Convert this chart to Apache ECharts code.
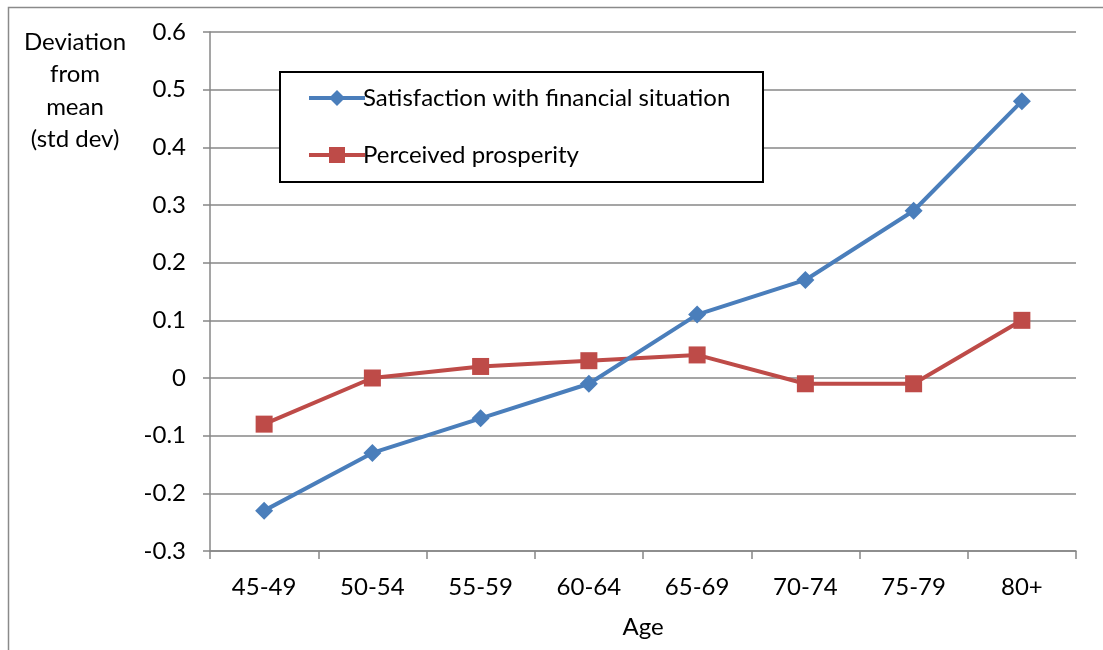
<!DOCTYPE html>
<html>
<head>
<meta charset="utf-8">
<script src="https://cdn.jsdelivr.net/npm/echarts@6/dist/echarts.min.js"></script>
<style>
  html, body { margin: 0; padding: 0; background: #fff; }
  #chart { width: 1103px; height: 650px; }
</style>
</head>
<body>
<div id="chart"></div>
<script>
// Age groups on the category axis
const ageGroups = ['45-49', '50-54', '55-59', '60-64', '65-69', '70-74', '75-79', '80+'];

// Deviation from mean, in standard deviations
const satisfactionFinancial = [-0.23, -0.13, -0.07, -0.01, 0.11, 0.17, 0.29, 0.48];
const perceivedProsperity = [-0.08, 0.00, 0.02, 0.03, 0.04, -0.01, -0.01, 0.10];

const seriesNames = ['Satisfaction with financial situation', 'Perceived prosperity'];
const yAxisTitle = ['Deviation', 'from', 'mean', '(std dev)'];
const xAxisTitle = 'Age';

const FONT = 'Lato';
const FS = 24;
const AXIS_GREY = '#878787';
const BLUE = '#4A7EBB';
const RED = '#BE4B48';

const chart = echarts.init(document.getElementById('chart'), null, { renderer: 'canvas' });

chart.setOption({
  animation: false,
  backgroundColor: '#ffffff',
  textStyle: { fontFamily: FONT },
  grid: { left: 210, right: 27, top: 32, bottom: 99, containLabel: false },
  xAxis: {
    type: 'category',
    data: ageGroups,
    boundaryGap: true,
    axisLine: { onZero: false, lineStyle: { color: AXIS_GREY, width: 1.5 } },
    axisTick: { show: true, alignWithLabel: false, length: 8, lineStyle: { color: AXIS_GREY, width: 1.5 } },
    axisLabel: { color: '#000', fontSize: FS, fontFamily: FONT, margin: 24 },
    splitLine: { show: false }
  },
  yAxis: {
    type: 'value',
    min: -0.3,
    max: 0.6,
    interval: 0.1,
    axisLine: { show: true, lineStyle: { color: AXIS_GREY, width: 1.5 } },
    axisTick: { show: true, length: 7, lineStyle: { color: AXIS_GREY, width: 1.5 } },
    axisLabel: {
      color: '#000', fontSize: FS, fontFamily: FONT, margin: 24,
      formatter: v => (Math.abs(v) < 1e-9 ? '0' : v.toFixed(1))
    },
    splitLine: { show: true, lineStyle: { color: AXIS_GREY, width: 1.5 } }
  },
  legend: {
    orient: 'vertical',
    left: 302,
    top: 81,
    z: 100,
    itemWidth: 56,
    itemHeight: 20,
    itemGap: 33,
    lineStyle: { width: 4 },
    textStyle: { color: '#000', fontSize: FS, fontFamily: FONT, padding: [0, 0, 0, -7] },
    data: seriesNames
  },
  graphic: [
    {
      type: 'rect',
      shape: { x: 8.5, y: 7.5, width: 1200, height: 700 },
      style: { fill: 'none', stroke: '#8a8a8a', lineWidth: 1.5 },
      silent: true, z: -10
    },
    {
      type: 'rect',
      shape: { x: 280, y: 72, width: 483, height: 110 },
      style: { fill: '#ffffff', stroke: '#000000', lineWidth: 2 },
      silent: true, z: 5
    },
    {
      type: 'text',
      x: 75, y: 26,
      style: {
        text: yAxisTitle.join('\n'),
        align: 'center',
        verticalAlign: 'top',
        lineHeight: 32.5,
        fontSize: FS,
        fontFamily: FONT,
        fill: '#000'
      },
      silent: true
    },
    {
      type: 'text',
      x: 643, y: 627,
      style: {
        text: xAxisTitle,
        align: 'center',
        verticalAlign: 'middle',
        fontSize: FS,
        fontFamily: FONT,
        fill: '#000'
      },
      silent: true
    }
  ],
  series: [
    {
      name: seriesNames[0],
      type: 'line',
      data: satisfactionFinancial,
      symbol: 'diamond',
      symbolSize: 18,
      lineStyle: { color: BLUE, width: 4 },
      itemStyle: { color: BLUE },
      z: 3
    },
    {
      name: seriesNames[1],
      type: 'line',
      data: perceivedProsperity,
      symbol: 'rect',
      symbolSize: 17,
      lineStyle: { color: RED, width: 4 },
      itemStyle: { color: RED },
      z: 2
    }
  ]
});
</script>
</body>
</html>
